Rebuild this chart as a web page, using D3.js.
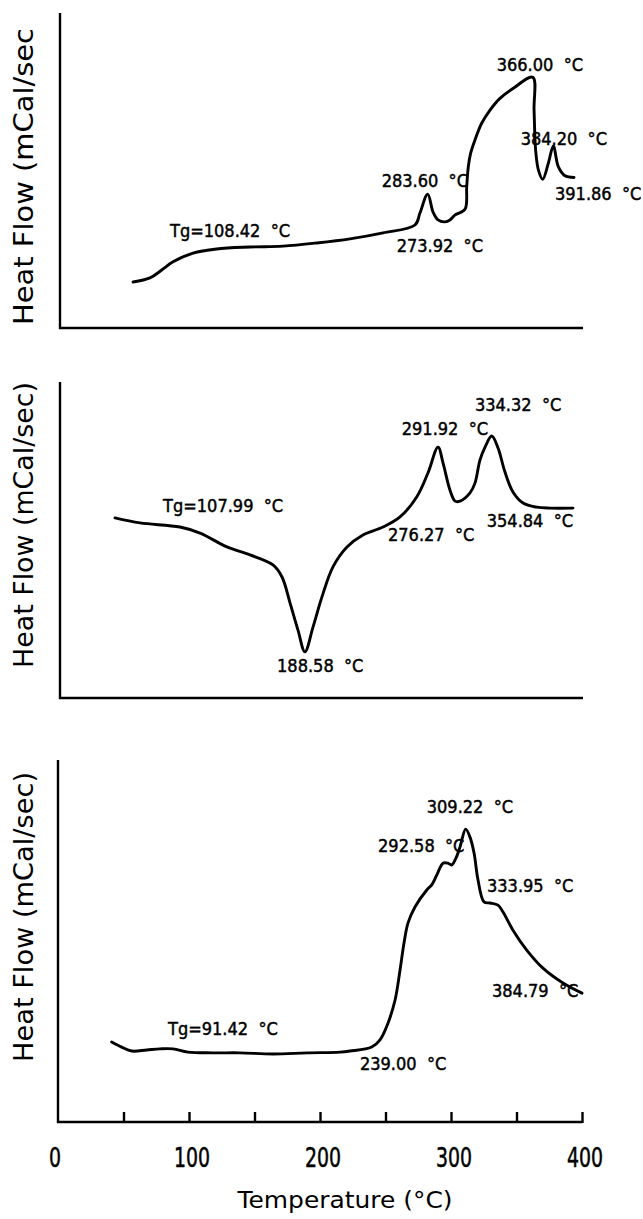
<!DOCTYPE html>
<html><head><meta charset="utf-8">
<script src="https://cdn.jsdelivr.net/npm/d3@7/dist/d3.min.js"></script>
<style>
html,body{margin:0;padding:0;background:#fff;}
svg{display:block;}
text{white-space:pre;}
</style></head><body>
<svg id="c" width="643" height="1219"></svg>
<script>
// ---- Data (temperature in °C, heat flow in arbitrary relative units 0-100) ----
const temp1 = [57.3,70.2,79.2,87.8,103.1,121.1,146.6,171.8,197.5,222.9,248.1,272.5,276.3,282.2,286.3,290.1,295.4,299.2,303.1,310.7,312.0,313.2,315.0,318.3,323.4,329.8,337.4,347.6,362.4,363.4,364.6,366.7,370.0,374.3,378.1,381.9,387.0,393.9];
const flow1 = [14.6,15.9,18.4,21.0,23.8,25.1,25.7,26.0,27.0,28.3,30.2,32.7,36.5,42.5,36.8,34.3,33.7,34.3,35.9,37.7,44.9,51.2,55.5,59.7,65.0,69.2,72.9,76.1,79.6,69.2,56.5,50.2,47.2,52.3,57.8,51.2,48.3,47.8];

const temp2 = [43.5,62.6,93.1,108.4,129.0,146.6,164.1,171.0,177.1,183.2,188.5,194.7,201.5,209.9,220.6,232.8,248.1,261.1,273.8,282.4,290.1,293.9,299.2,303.1,306.9,314.5,318.3,322.1,326.0,331.1,335.9,341.2,347.3,355.0,365.4,375.6,393.1];
const flow2 = [57.0,55.4,54.1,52.2,47.8,45.3,42.1,38.3,30.1,21.5,14.6,22.5,32.0,41.5,47.8,51.6,54.1,57.3,63.6,71.2,79.4,74.4,65.8,62.3,62.3,64.9,68.0,75.3,79.4,82.9,79.1,71.5,65.2,61.7,60.4,60.1,60.1];

const temp3 = [41.0,48.6,56.3,67.7,77.9,87.8,99.2,118.3,138.9,164.1,190.1,215.3,222.9,239.5,245.8,251.9,257.3,261.1,264.1,267.2,272.5,281.5,285.3,289.1,293.9,297.7,300.5,303.8,306.9,311.2,314.5,317.6,320.6,325.2,329.8,335.9,339.7,347.3,357.8,370.2,385.5,400.0];
const flow3 = [22.1,20.7,19.6,19.9,20.2,20.2,19.3,19.1,19.1,18.8,19.1,19.3,19.6,20.7,22.7,27.3,33.7,42.0,49.4,55.0,59.4,64.1,65.5,68.2,71.5,71.5,71.0,72.9,76.0,80.9,78.7,74.3,66.9,60.8,60.5,59.9,58.0,53.0,47.5,42.5,38.4,35.6];

// annotation labels: text, temperature and heat-flow anchor (left / baseline)
const notes1 = [
  {text:"Tg=108.42  °C", t:85.5, v:28.9},
  {text:"283.60  °C", t:247.1, v:44.8},
  {text:"273.92  °C", t:258.5, v:24.1},
  {text:"366.00  °C", t:334.9, v:81.6},
  {text:"384.20  °C", t:353.2, v:58.1},
  {text:"391.86  °C", t:379.4, v:40.6}
];
const notes2 = [
  {text:"Tg=107.99  °C", t:80.2, v:58.9},
  {text:"188.58  °C", t:167.2, v:8.2},
  {text:"291.92  °C", t:262.4, v:83.2},
  {text:"334.32  °C", t:318.3, v:90.8},
  {text:"276.27  °C", t:251.9, v:49.7},
  {text:"354.84  °C", t:327.3, v:54.1}
];
const notes3 = [
  {text:"Tg=91.42  °C", t:84.0, v:24.0},
  {text:"239.00  °C", t:230.5, v:14.4},
  {text:"292.58  °C", t:244.3, v:74.6},
  {text:"309.22  °C", t:281.5, v:85.4},
  {text:"333.95  °C", t:327.5, v:63.5},
  {text:"384.79  °C", t:331.3, v:34.5}
];

const yTitles = ["Heat Flow (mCal/sec", "Heat Flow (mCal/sec)", "Heat Flow (mCal/sec)"];
const xTitle = "Temperature (°C)";
const tickLabels = [0, 100, 200, 300, 400];
const tickMarks = [50, 100, 150, 200, 250, 300, 350, 400];

// ---- Layout ----
const svg = d3.select("#c");
const x = d3.scaleLinear().domain([0, 400]).range([58, 582]);
const layout = [
  {top:13,  bottom:328,  axisX:60, axisEnd:583, labCy:176.5, labLen:297},
  {top:382, bottom:698,  axisX:60, axisEnd:583, labCy:525,   labLen:286},
  {top:760, bottom:1122, axisX:58, axisEnd:582, labCy:917,   labLen:290}
];
const series = [
  {temps:temp1, flows:flow1, notes:notes1},
  {temps:temp2, flows:flow2, notes:notes2},
  {temps:temp3, flows:flow3, notes:notes3}
];
const labelFont = "'DejaVu Sans Condensed','DejaVu Sans',sans-serif";

series.forEach((s, i) => {
  const L = layout[i];
  const y = d3.scaleLinear().domain([0, 100]).range([L.bottom, L.top]);
  const g = svg.append("g");

  // axes lines
  g.append("line").attr("x1", L.axisX).attr("x2", L.axisX)
    .attr("y1", L.top).attr("y2", L.bottom + 1)
    .attr("stroke", "#000").attr("stroke-width", 2.4);
  g.append("line").attr("x1", L.axisX - 1).attr("x2", L.axisEnd)
    .attr("y1", L.bottom).attr("y2", L.bottom)
    .attr("stroke", "#000").attr("stroke-width", 2.4);

  // y title
  g.append("text")
    .attr("transform", `translate(33,${L.labCy}) rotate(-90)`)
    .attr("text-anchor", "middle")
    .attr("font-family", "'DejaVu Sans',sans-serif")
    .attr("font-size", 26)
    .attr("textLength", L.labLen)
    .attr("lengthAdjust", "spacingAndGlyphs")
    .attr("fill", "#000")
    .text(yTitles[i]);

  // curve
  const pts = s.temps.map((t, k) => [t, s.flows[k]]);
  const line = d3.line().x(d => x(d[0])).y(d => y(d[1]))
    .curve(d3.curveCatmullRom.alpha(0.5));
  g.append("path").attr("d", line(pts))
    .attr("fill", "none").attr("stroke", "#000")
    .attr("stroke-width", 2.9).attr("stroke-linejoin", "round").attr("stroke-linecap", "round");

  // annotations
  g.selectAll("text.note").data(s.notes).enter().append("text")
    .attr("class", "note")
    .attr("x", d => x(d.t)).attr("y", d => y(d.v))
    .attr("font-family", labelFont)
    .attr("font-size", 18)
    .attr("fill", "#000")
    .attr("stroke", "#000").attr("stroke-width", 0.45)
    .text(d => d.text);

  if (i === 2) {
    // tick marks (upward)
    const axis = d3.axisTop(x).tickValues(tickMarks).tickSize(10).tickFormat("");
    const ag = g.append("g").attr("transform", `translate(0,${L.bottom})`).call(axis);
    ag.select(".domain").remove();
    ag.selectAll(".tick line").attr("stroke", "#000").attr("stroke-width", 2.4)
      .attr("y2", -10).attr("y1", 1);

    // tick labels
    g.selectAll("text.tl").data(tickLabels).enter().append("text")
      .attr("class", "tl")
      .attr("transform", d => `translate(${x(d) + (d === 0 ? -3 : 3)},1167) scale(1,1.25)`)
      .attr("text-anchor", "middle")
      .attr("font-family", labelFont)
      .attr("font-size", 21)
      .attr("fill", "#000")
      .attr("stroke", "#000").attr("stroke-width", 0.4)
      .text(d => d);

    // x title
    g.append("text")
      .attr("x", 345).attr("y", 1208)
      .attr("text-anchor", "middle")
      .attr("font-family", "'DejaVu Sans',sans-serif")
      .attr("font-size", 23)
      .attr("textLength", 215)
      .attr("lengthAdjust", "spacingAndGlyphs")
      .attr("fill", "#000")
      .text(xTitle);
  }
});
</script>
</body></html>
